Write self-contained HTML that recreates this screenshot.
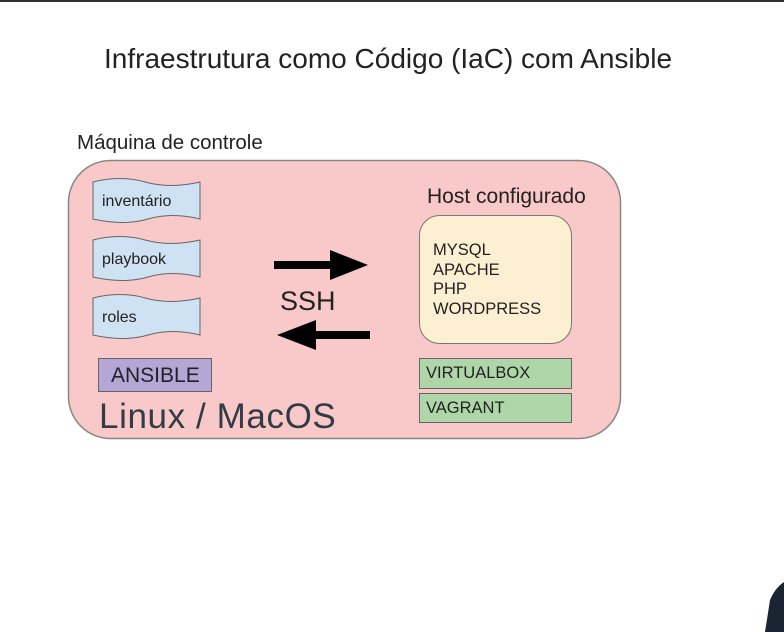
<!DOCTYPE html>
<html><head><meta charset="utf-8"><style>
body{margin:0;width:784px;height:632px;background:#fff;overflow:hidden;font-family:"Liberation Sans",sans-serif;position:relative}
.t{position:absolute;white-space:nowrap;color:#222}
</style></head><body>
<div style="position:absolute;left:0;top:0;width:784px;height:2px;background:#333"></div>
<div class="t" style="left:0;width:776px;text-align:center;top:43px;font-size:28px">Infraestrutura como Código (IaC) com Ansible</div>
<div class="t" style="left:77px;top:131px;font-size:20.5px">Máquina de controle</div>
<svg width="784" height="632" style="position:absolute;left:0;top:0">
<rect x="68.5" y="160.5" width="552" height="278" rx="42" fill="#f9c8c9" stroke="#888" stroke-width="1.5"/>
<g fill="#cfe2f3" stroke="#666" stroke-width="1">
<path d="M93 182 Q120 175 145 182 T200 182 L200 219 Q172 212 148 219 T93 219 Z"/>
<path d="M93 240 Q120 233 145 240 T200 240 L200 277 Q172 270 148 277 T93 277 Z"/>
<path d="M93 298 Q120 291 145 298 T200 298 L200 335 Q172 328 148 335 T93 335 Z"/>
</g>
<rect x="98.5" y="358.5" width="113" height="33" fill="#b4a7d6" stroke="#666"/>
<rect x="419.5" y="215.5" width="152" height="128" rx="20" fill="#fdf0d2" stroke="#777"/>
<rect x="419.5" y="358.5" width="152" height="30" fill="#afd6a8" stroke="#666"/>
<rect x="419.5" y="393.5" width="152" height="29" fill="#afd6a8" stroke="#666"/>
<rect x="274" y="261" width="60" height="8" fill="#000"/>
<polygon points="330,250 368,265 330,280" fill="#000"/>
<rect x="314" y="331" width="56" height="8" fill="#000"/>
<polygon points="316,320 277,335 316,350" fill="#000"/>
<path d="M765 632 L770 600 Q775 588 784 582 L784 632 Z" fill="#1a2433"/>
</svg>
<div class="t" style="left:102px;top:193px;font-size:16px">inventário</div>
<div class="t" style="left:102px;top:251px;font-size:16px">playbook</div>
<div class="t" style="left:102px;top:309px;font-size:16px">roles</div>
<div class="t" style="left:111px;top:364px;font-size:21px">ANSIBLE</div>
<div class="t" style="left:280px;top:286px;font-size:27px">SSH</div>
<div class="t" style="left:99px;top:397px;font-size:35px;color:#333b45;letter-spacing:0.6px">Linux / MacOS</div>
<div class="t" style="left:427px;top:185px;font-size:21px">Host configurado</div>
<div class="t" style="left:433px;top:241px;font-size:16.5px;line-height:19.5px">MYSQL<br>APACHE<br>PHP<br>WORDPRESS</div>
<div class="t" style="left:426px;top:364px;font-size:16.5px">VIRTUALBOX</div>
<div class="t" style="left:426px;top:399px;font-size:16.5px">VAGRANT</div>
</body></html>
